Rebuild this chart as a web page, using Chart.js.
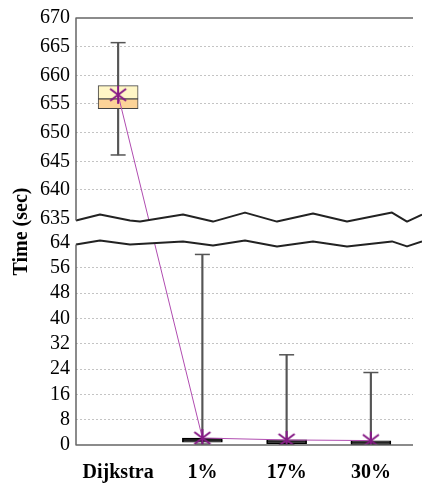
<!DOCTYPE html>
<html>
<head>
<meta charset="utf-8">
<script src="https://cdn.jsdelivr.net/npm/chart.js@4"></script>
<style>
  html, body { margin: 0; padding: 0; background: #fff; }
  #wrap { width: 422px; height: 486px; }
</style>
</head>
<body>
<div id="wrap"><canvas id="myChart" width="422" height="486"></canvas></div>
<script>
// data
const categories = ['Dijkstra', '1%', '17%', '30%'];
const whiskerMin = [646.1, 0.3, 0.2, 0.1];
const q1 = [654.2, 0.9, 0.4, 0.1];
const median = [655.9, 1.5, 1.0, 0.7];
const q3 = [658.2, 2.2, 1.6, 1.3];
const whiskerMax = [665.7, 60.2, 28.5, 22.9];
const means = [656.6, 2.2, 1.6, 1.4];

// broken axis: two value ranges with their own tick labels
const bottomTicks = [0, 8, 16, 24, 32, 40, 48, 56, 64];
const topTicks = [635, 640, 645, 650, 655, 660, 665, 670];
const yTickLabels = bottomTicks.concat(topTicks).map(String);

// share of the axis (in axis units) for each piece
const BOTTOM_SPAN = 204, GAP = 24, TOP_SPAN = 202;
const AXIS_MAX = BOTTOM_SPAN + GAP + TOP_SPAN;

const toAxis = v => {
  if (v <= 64) return v / 64 * BOTTOM_SPAN;
  return BOTTOM_SPAN + GAP + (v - 635) / 35 * TOP_SPAN;
};

const FONT = "'Liberation Serif', 'Times New Roman', serif";
const hidden = ['0', '64', '635', '670'];

// asterisk marker for the means
const star = document.createElement('canvas');
star.width = 20; star.height = 20;
(() => {
  const c = star.getContext('2d');
  c.strokeStyle = '#861a86';
  c.lineWidth = 2;
  c.beginPath();
  c.moveTo(10, 1); c.lineTo(10, 19);
  c.moveTo(2, 4); c.lineTo(18, 16);
  c.moveTo(2, 16); c.lineTo(18, 4);
  c.stroke();
})();

// zig-zag shape of the break marks (x px from chart left, y px offset)
const waveTop = [[0, 2], [24, -4], [54, 2], [64, 3], [107, -4], [137, 3], [169, -6], [201, 3], [237, -5], [271, 3], [316, -6], [331, 3], [346, -4]];
const waveBottom = [[0, 2], [24, -2], [54, 2], [107, -1], [137, 3], [169, -2], [201, 4], [237, -1], [271, 4], [316, -1], [331, 4], [346, -1]];

const breakPlugin = {
  id: 'breakAxis',
  afterDatasetsDraw(chart) {
    const { ctx, chartArea: a, scales: { y } } = chart;
    const yTop = y.getPixelForValue(toAxis(635));
    const yBot = y.getPixelForValue(toAxis(64));
    const ptsTop = waveTop.map(p => [a.left + p[0], yTop + p[1]]);
    const ptsBot = waveBottom.map(p => [a.left + p[0], yBot + p[1]]);

    ctx.save();
    // white band hides whatever crosses the break
    ctx.fillStyle = '#fff';
    ctx.beginPath();
    ptsTop.forEach((p, i) => i ? ctx.lineTo(p[0], p[1]) : ctx.moveTo(p[0], p[1]));
    ptsBot.slice().reverse().forEach(p => ctx.lineTo(p[0], p[1]));
    ctx.closePath();
    ctx.fill();

    ctx.strokeStyle = '#222';
    ctx.lineWidth = 2;
    ctx.lineJoin = 'round';
    [ptsTop, ptsBot].forEach(pts => {
      ctx.beginPath();
      pts.forEach((p, i) => i ? ctx.lineTo(p[0], p[1]) : ctx.moveTo(p[0], p[1]));
      ctx.stroke();
    });

    // frame
    ctx.strokeStyle = '#666';
    ctx.lineWidth = 1.5;
    ctx.beginPath();
    ctx.moveTo(a.right, a.top); ctx.lineTo(a.left, a.top); ctx.lineTo(a.left, ptsTop[0][1]);
    ctx.moveTo(a.left, ptsBot[0][1]); ctx.lineTo(a.left, a.bottom); ctx.lineTo(a.right, a.bottom);
    ctx.stroke();
    ctx.restore();
  }
};

const boxBorder = ['#444', '#000', '#000', '#000'];

const ctx = document.getElementById('myChart');
new Chart(ctx, {
  type: 'bar',
  data: {
    labels: categories,
    datasets: [
      {
        type: 'line',
        data: means.map(toAxis),
        borderColor: '#b04cb0',
        borderWidth: 1,
        pointStyle: star,
        order: 0,
      },
      {
        type: 'line',
        data: whiskerMax.map(toAxis),
        showLine: false,
        pointStyle: 'line',
        pointRadius: 7.5,
        pointBorderColor: '#555',
        pointBorderWidth: 1.5,
        order: 2,
      },
      {
        type: 'line',
        data: whiskerMin.map(toAxis),
        showLine: false,
        pointStyle: 'line',
        pointRadius: 7.5,
        pointBorderColor: '#555',
        pointBorderWidth: 1.5,
        order: 2,
      },
      {
        data: q3.map((v, i) => [toAxis(median[i]), toAxis(v)]),
        backgroundColor: ['#fff6c6', '#000', '#000', '#000'],
        borderColor: boxBorder,
        borderWidth: 1,
        borderSkipped: false,
        barThickness: 40,
        grouped: false,
        order: 1,
      },
      {
        data: q1.map((v, i) => [toAxis(v), toAxis(median[i])]),
        backgroundColor: ['#fcd398', '#000', '#000', '#000'],
        borderColor: boxBorder,
        borderWidth: 1,
        borderSkipped: false,
        barThickness: 40,
        grouped: false,
        order: 1,
      },
      {
        data: whiskerMin.map((v, i) => [toAxis(v), toAxis(whiskerMax[i])]),
        backgroundColor: '#555',
        borderWidth: 0,
        barThickness: 1.5,
        grouped: false,
        order: 3,
      },
    ],
  },
  options: {
    responsive: false,
    animation: false,
    layout: { padding: { top: 15, right: 0 } },
    plugins: { legend: { display: false }, tooltip: { enabled: false } },
    scales: {
      x: {
        grid: { display: false, drawTicks: false },
        border: { display: false },
        ticks: {
          color: '#000',
          padding: 16,
          font: { family: FONT, size: 20, weight: 'bold' },
        },
        afterFit: scale => { scale.height = 41; },
      },
      y: {
        min: 0,
        max: AXIS_MAX,
        afterBuildTicks: scale => {
          scale.ticks = bottomTicks.concat(topTicks).map(v => ({ value: toAxis(v) }));
        },
        ticks: {
          autoSkip: false,
          color: '#000',
          padding: 6,
          font: { family: FONT, size: 20 },
          callback: (value, i) => yTickLabels[i],
        },
        grid: {
          drawTicks: false,
          color: c => hidden.includes(yTickLabels[c.index]) ? 'rgba(0,0,0,0)' : '#c4c4c4',
        },
        border: { display: false, dash: [2, 2] },
        title: {
          display: true,
          text: 'Time (sec)',
          color: '#000',
          font: { family: FONT, size: 20, weight: 'bold' },
          padding: { top: 10, bottom: 0 },
        },
        afterFit: scale => { scale.width = 76; },
      },
    },
  },
  plugins: [breakPlugin],
});
</script>
</body>
</html>
